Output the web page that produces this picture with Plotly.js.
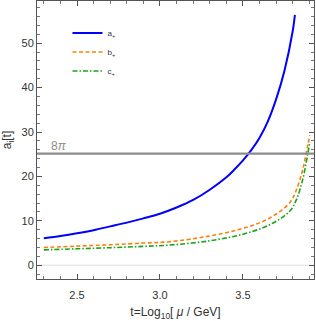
<!DOCTYPE html>
<html><head><meta charset="utf-8">
<script src="https://cdn.plot.ly/plotly-3.0.1.min.js"></script>
<style>body{margin:0;padding:0;background:#fff}#chart{width:316px;height:321px}</style>
</head><body><div id="chart"></div>
<script>
var tA = [2.3, 2.4, 2.5, 2.6, 2.7, 2.8, 2.9, 3.0, 3.1, 3.2, 3.3, 3.4, 3.45, 3.5, 3.55, 3.6, 3.65, 3.7, 3.75, 3.8, 3.813];
var aPlus = [6.1, 6.6, 7.2, 7.9, 8.75, 9.6, 10.55, 11.6, 13.0, 14.7, 17.0, 19.8, 21.6, 23.6, 25.9, 28.7, 32.4, 37.4, 43.8, 52.8, 56.4];
var tBC = [2.3, 2.5, 2.7, 2.9, 3.06, 3.3, 3.5, 3.66, 3.78, 3.82, 3.86, 3.89, 3.903];
var bPlus = [4.0, 4.3, 4.6, 5.0, 5.3, 6.6, 8.3, 10.6, 14.0, 16.8, 21.5, 27.0, 29.3];
var cPlus = [3.45, 3.7, 3.95, 4.25, 4.55, 5.5, 7.0, 9.1, 12.1, 14.6, 19.3, 25.0, 27.8];
var names = ['a<sub>+</sub>', 'b<sub>+</sub>', 'c<sub>+</sub>'];
var threshold = 8 * Math.PI;
var thresholdLabel = '8<i>π</i>';

var traces = [
  {x: tA, y: aPlus, name: names[0], mode: 'lines', line: {color: '#0000ff', width: 2, shape: 'spline', smoothing: 0.9}},
  {x: tBC, y: bPlus, name: names[1], mode: 'lines', line: {color: '#ff7f0e', width: 1.6, dash: '4px,2.5px', shape: 'spline', smoothing: 1}},
  {x: tBC, y: cPlus, name: names[2], mode: 'lines', line: {color: '#1aa31a', width: 1.6, dash: '5px,2px,1.5px,2px', shape: 'spline', smoothing: 1}}
];
var axBase = {
  showgrid: false, zeroline: false, showline: true, linecolor: '#555', linewidth: 1,
  mirror: 'allticks', ticks: 'inside', ticklen: 5, tickcolor: '#555', tickwidth: 1,
  tickfont: {family: 'Liberation Sans, Arial', size: 11, color: '#333'}
};
var layout = {
  width: 316, height: 321,
  margin: {l: 37, r: 2, t: 1, b: 42},
  paper_bgcolor: '#fff', plot_bgcolor: '#fff',
  showlegend: true,
  legend: {x: 0.11, y: 0.937, xanchor: 'left', yanchor: 'top', bgcolor: 'rgba(0,0,0,0)',
    font: {family: 'Liberation Sans, Arial', size: 8, color: '#333'}, itemwidth: 30, tracegroupgap: 0},
  xaxis: Object.assign({}, axBase, {
    range: [2.259, 3.928], tickvals: [2.5, 3.0, 3.5], ticktext: ['2.5', '3.0', '3.5'],
    ticklabelstandoff: 6,
    minor: {dtick: 0.1, tick0: 2.0, ticks: 'inside', ticklen: 3, tickcolor: '#777', showgrid: false},
    title: {text: 't=Log<sub>10</sub>[ <i>μ</i> / GeV]', font: {family: 'Liberation Sans, Arial', size: 12, color: '#333'}, standoff: 12}
  }),
  yaxis: Object.assign({}, axBase, {
    range: [-3.1, 59.5], tickvals: [0, 10, 20, 30, 40, 50],
    minor: {dtick: 2, tick0: 0, ticks: 'inside', ticklen: 3, tickcolor: '#777', showgrid: false},
    title: {text: 'a<sub>i</sub>[t]', font: {family: 'Liberation Sans, Arial', size: 12, color: '#333'}, standoff: 7}
  }),
  shapes: [
    {type: 'line', xref: 'paper', x0: 0, x1: 1, yref: 'y', y0: 0, y1: 0, line: {color: '#dddddd', width: 1}, layer: 'below'},
    {type: 'line', xref: 'paper', x0: 0, x1: 1, yref: 'y', y0: threshold, y1: threshold, line: {color: '#8c8c8c', width: 2.2}}
  ],
  annotations: [
    {x: 2.33, y: threshold, xref: 'x', yref: 'y', xanchor: 'left', yanchor: 'bottom', showarrow: false,
     text: thresholdLabel, font: {family: 'Liberation Sans, Arial', size: 12, color: '#8c8c8c'}, yshift: -1}
  ]
};
Plotly.newPlot('chart', traces, layout, {displayModeBar: false, staticPlot: true});
</script></body></html>
